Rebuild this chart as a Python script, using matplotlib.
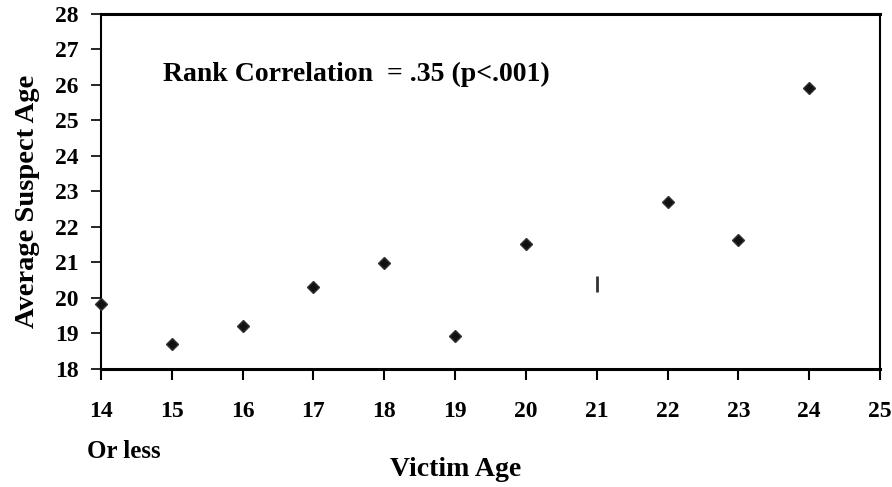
import matplotlib
matplotlib.use("Agg")
import matplotlib.pyplot as plt

plt.rcParams["font.family"] = ["Liberation Serif", "DejaVu Serif"]
plt.rcParams["font.weight"] = "bold"

victim_age = [14, 15, 16, 17, 18, 19, 20, 22, 23, 24]
suspect_age = [19.83, 18.70, 19.21, 20.31, 20.99, 18.93, 21.52, 22.70, 21.63, 25.92]
# age 21 is drawn with a different (bar) marker in the original
odd_age = [21]
odd_suspect = [20.40]

x_ticks = list(range(14, 26))
y_ticks = list(range(18, 29))

fig = plt.figure(figsize=(8.92, 4.87), dpi=100)
ax = fig.add_axes([0.1132, 0.2423, 0.8733, 0.729])

ax.plot(victim_age, suspect_age, linestyle="none", marker="D", markersize=6,
        color="#111111", markeredgecolor="#333333", clip_on=False, zorder=3)
ax.plot(odd_age, odd_suspect, linestyle="none", marker="|", markersize=11,
        markeredgewidth=2, color="#333333", zorder=3)

ax.set_xlim(14, 25)
ax.set_ylim(18, 28)
ax.set_xticks(x_ticks)
ax.set_yticks(y_ticks)
ax.set_xticklabels([str(v) for v in x_ticks], fontsize=17, fontweight="bold")
ax.set_yticklabels([str(v) for v in y_ticks], fontsize=17, fontweight="bold")
ax.tick_params(axis="x", direction="out", length=8, width=1.5, pad=15)
ax.tick_params(axis="y", direction="out", length=7, width=1.2, pad=9)

for side, lw in [("left", 1.5), ("right", 1.5), ("top", 2.2), ("bottom", 2.2)]:
    ax.spines[side].set_linewidth(lw)

ax.text(163 / 892, 1 - 74 / 487, "Rank Correlation  = .35 (p<.001)",
        transform=fig.transFigure, fontsize=20, fontweight="bold",
        ha="left", va="center")

fig.text(87 / 892, 1 - 452 / 487, "Or less", fontsize=18, fontweight="bold",
         ha="left", va="center")
fig.text(456 / 892, 1 - 470 / 487, "Victim Age", fontsize=20, fontweight="bold",
         ha="center", va="center")
fig.text(28 / 892, 1 - 201 / 487, "Average Suspect Age", fontsize=20.5,
         fontweight="bold", ha="center", va="center", rotation=90)

fig.savefig("out.png", dpi=100)
